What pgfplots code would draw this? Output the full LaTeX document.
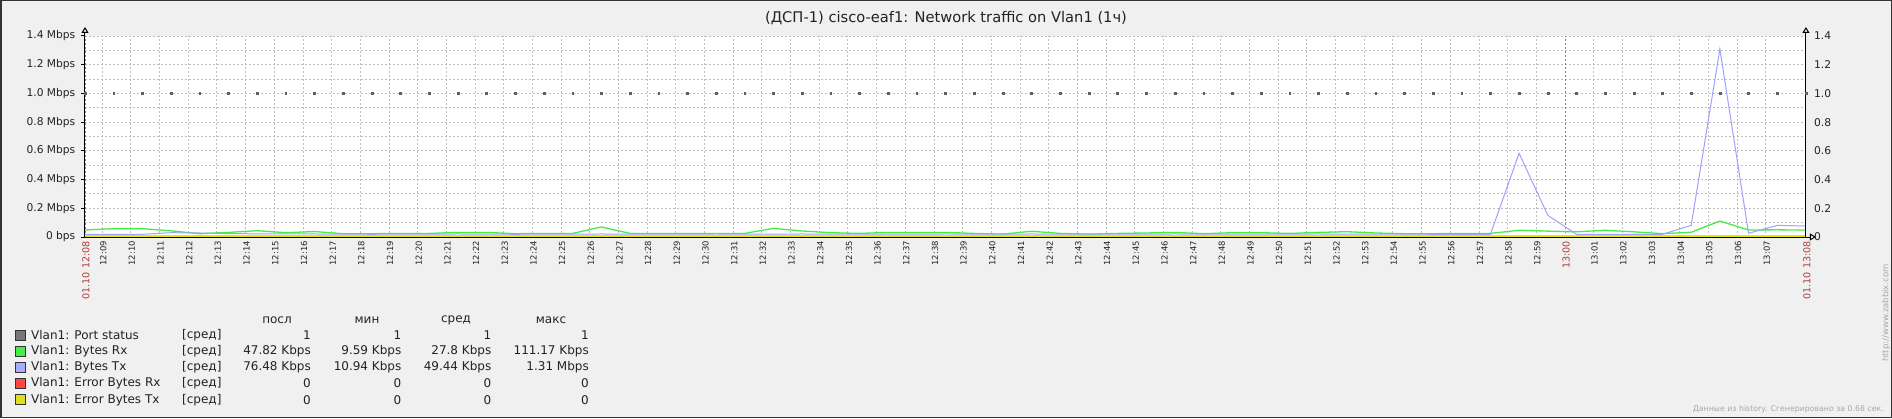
\documentclass[border=0pt]{standalone}
\usepackage{fontspec}
\setmainfont{DejaVu Sans}
\usepackage{pgfplots}
\pgfplotsset{compat=1.18}
\usetikzlibrary{arrows.meta}
\definecolor{bgc}{HTML}{F0F0F0}
\definecolor{brd}{HTML}{333333}
\definecolor{txt}{HTML}{222222}
\definecolor{redlab}{HTML}{B03A3A}
\definecolor{gridc}{HTML}{BDBDBD}
\definecolor{rxc}{HTML}{44EE44}
\definecolor{txc}{HTML}{A0A0FF}
\definecolor{psc}{HTML}{606060}
\definecolor{erxc}{HTML}{FF4444}
\definecolor{etxc}{HTML}{E6E600}
\definecolor{lg1}{HTML}{777777}
\definecolor{lg2}{HTML}{44EE44}
\definecolor{lg3}{HTML}{AAAAFF}
\definecolor{lg4}{HTML}{FF4444}
\definecolor{lg5}{HTML}{DDDD22}
\definecolor{faint}{HTML}{A8A8A8}

\pgfplotstableread{
x rx tx
8.4 0.049 0.019
9.4 0.058 0.019
10.4 0.058 0.019
11.4 0.043 0.030
12.4 0.023 0.028
13.4 0.032 0.024
14.4 0.044 0.022
15.4 0.030 0.021
16.4 0.038 0.021
17.4 0.023 0.020
18.4 0.023 0.019
19.4 0.025 0.020
20.4 0.025 0.020
21.4 0.032 0.021
22.4 0.032 0.020
23.4 0.023 0.019
24.4 0.025 0.020
25.4 0.025 0.020
26.4 0.070 0.021
27.4 0.025 0.020
28.4 0.025 0.020
29.4 0.025 0.020
30.4 0.025 0.021
31.4 0.025 0.020
32.4 0.060 0.020
33.4 0.042 0.021
34.4 0.030 0.020
35.4 0.025 0.020
36.4 0.032 0.020
37.4 0.032 0.020
38.4 0.032 0.021
39.4 0.025 0.020
40.4 0.020 0.020
41.4 0.040 0.021
42.4 0.025 0.020
43.4 0.020 0.020
44.4 0.025 0.020
45.4 0.028 0.020
46.4 0.032 0.021
47.4 0.023 0.020
48.4 0.030 0.020
49.4 0.030 0.020
50.4 0.025 0.020
51.4 0.032 0.021
52.4 0.037 0.020
53.4 0.028 0.020
54.4 0.023 0.020
55.4 0.023 0.019
56.4 0.025 0.019
57.4 0.025 0.019
58.4 0.047 0.583
59.4 0.041 0.151
60.4 0.036 0.019
61.4 0.047 0.019
62.4 0.036 0.019
63.4 0.023 0.019
64.4 0.033 0.081
65.4 0.111 1.309
66.4 0.049 0.026
67.4 0.050 0.081
68.4 0.048 0.0765
}\traffic

\pgfplotstableread{
x ps
8.4 1
9.4 1
10.4 1
11.4 1
12.4 1
13.4 1
14.4 1
15.4 1
16.4 1
17.4 1
18.4 1
19.4 1
20.4 1
21.4 1
22.4 1
23.4 1
24.4 1
25.4 1
26.4 1
27.4 1
28.4 1
29.4 1
30.4 1
31.4 1
32.4 1
33.4 1
34.4 1
35.4 1
36.4 1
37.4 1
38.4 1
39.4 1
40.4 1
41.4 1
42.4 1
43.4 1
44.4 1
45.4 1
46.4 1
47.4 1
48.4 1
49.4 1
50.4 1
51.4 1
52.4 1
53.4 1
54.4 1
55.4 1
56.4 1
57.4 1
58.4 1
59.4 1
60.4 1
61.4 1
62.4 1
63.4 1
64.4 1
65.4 1
66.4 1
67.4 1
68.4 1
}\portstatus

\pgfplotstableread{
x e
8.4 0
68.4 0
}\errors

\newcommand\fA{\fontsize{10.67}{12}\selectfont}
\newcommand\fL{\fontsize{12}{14}\selectfont}

\begin{document}
\begin{tikzpicture}
\useasboundingbox (0,0) rectangle (1892pt,418pt);
\fill[bgc] (0,0) rectangle (1892pt,418pt);
\draw[brd, line width=1.5pt] (0.75pt,0.75pt) rectangle (1891.25pt,417.25pt);

\begin{axis}[
  at={(85pt,181pt)}, anchor=south west,
  scale only axis, width=1721pt, height=201pt,
  xmin=8.4, xmax=68.4, ymin=0, ymax=1.4,
  axis x line*=bottom, axis y line*=left,
  axis line style={black, line width=1pt},
  axis background/.style={fill=white},
  xtick={9,10,11,12,13,14,15,16,17,18,19,20,21,22,23,24,25,26,27,28,29,30,31,32,33,34,35,36,37,38,39,40,41,42,43,44,45,46,47,48,49,50,51,52,53,54,55,56,57,58,59,61,62,63,64,65,66,67},
  xticklabel={\pgfmathtruncatemacro\mm{round(\tick)}\ifnum\mm<60 12:\ifnum\mm<10 0\fi\mm\else 13:0\the\numexpr\mm-60\relax\fi},
  xticklabel style={rotate=90, anchor=east, font=\fontsize{8.4}{9}\selectfont, text=txt, inner sep=0pt, yshift=-1pt},
  extra x ticks={8.4,60,68.4},
  extra x tick labels={01.10 12:08,13:00,01.10 13:08},
  extra x tick style={xticklabel style={text=redlab, font=\fontsize{9.6}{11}\selectfont}, major grid style={color=black!50, dash pattern=on 2pt off 2pt, line width=0.9pt}},
  xtick style={draw=none},
  ytick={0,0.2,0.4,0.6,0.8,1.0,1.2,1.4},
  yticklabels={0 bps,0.2 Mbps,0.4 Mbps,0.6 Mbps,0.8 Mbps,1.0 Mbps,1.2 Mbps,1.4 Mbps},
  yticklabel style={font=\fA, text=txt, inner sep=0pt, xshift=-5.5pt},
  minor y tick num=1,
  ytick style={black, line width=1pt},
  major tick length=4pt, minor tick length=0pt, tick align=outside,
  xmajorgrids, ymajorgrids, yminorgrids,
  major grid style={gridc, dash pattern=on 2pt off 2pt, line width=0.9pt},
  minor grid style={gridc, dash pattern=on 2pt off 2pt, line width=0.9pt},
  clip=false,
]
\addplot[rxc, line width=1.3pt] table[x=x, y=rx] {\traffic};
\addplot[txc, line width=1pt] table[x=x, y=tx] {\traffic};
\addplot[erxc, line width=1.5pt, yshift=1pt] table[x=x, y=e] {\errors};
\addplot[etxc, line width=1.5pt, yshift=1pt] table[x=x, y=e] {\errors};
\draw[black, line width=1pt, -{Triangle[open, length=6pt, width=7pt]}] (rel axis cs:0,1) -- ++(0pt,9pt);
\draw[black, line width=1pt, -{Triangle[open, length=6pt, width=7pt]}] (rel axis cs:1,0) -- ++(10pt,0pt);
\end{axis}

\begin{axis}[
  at={(85pt,181pt)}, anchor=south west,
  scale only axis, width=1721pt, height=201pt,
  xmin=8.4, xmax=68.4, ymin=0, ymax=1.4,
  axis x line=none, axis y line*=right,
  axis line style={black, line width=1pt},
  ytick={0,0.2,0.4,0.6,0.8,1.0,1.2,1.4},
  yticklabels={0,0.2,0.4,0.6,0.8,1.0,1.2,1.4},
  yticklabel style={font=\fA, text=txt, inner sep=0pt, xshift=8pt},
  ytick style={draw=none},
  clip=false,
]
\addplot[only marks, mark=square*, mark size=0.9pt, psc] table[x=x, y=ps] {\portstatus};
\draw[black, line width=1pt, -{Triangle[open, length=6pt, width=7pt]}] (rel axis cs:1,1) -- ++(0pt,9pt);
\end{axis}

% title
\node[font=\fontsize{14.67}{16}\selectfont, text=txt] at (946pt,400pt) {(ДСП-1) cisco-eaf1: Network traffic on Vlan1 (1ч)};

% legend
\begin{scope}[every node/.style={font=\fL, text=txt, inner sep=0pt}]
\node[anchor=center] at (277pt,97.5pt) {посл};
\node[anchor=center] at (367pt,97.5pt) {мин};
\node[anchor=center] at (456pt,97.5pt) {сред};
\node[anchor=center] at (551pt,97.5pt) {макс};
\foreach \yy/\cc/\nn/\va/\vb/\vc/\vd in {
  83/lg1/Port status/1/1/1/1,
  66.8/lg2/Bytes Rx/47.82 Kbps/9.59 Kbps/27.8 Kbps/111.17 Kbps,
  50.6/lg3/Bytes Tx/76.48 Kbps/10.94 Kbps/49.44 Kbps/1.31 Mbps,
  34.4/lg4/Error Bytes Rx/0/0/0/0,
  18.2/lg5/Error Bytes Tx/0/0/0/0}{
  \filldraw[fill=\cc, draw=brd, line width=0.8pt] (15.5pt,\yy pt-5pt) rectangle ++(10pt,10pt);
  \node[anchor=west] at (31pt,\yy pt) {Vlan1: \nn};
  \node[anchor=west] at (182pt,\yy pt) {[сред]};
  \node[anchor=east] at (311pt,\yy pt) {\va};
  \node[anchor=east] at (401.5pt,\yy pt) {\vb};
  \node[anchor=east] at (491.5pt,\yy pt) {\vc};
  \node[anchor=east] at (589pt,\yy pt) {\vd};
}
\end{scope}

\node[font=\fontsize{8.5}{10}\selectfont, text=faint, rotate=90, inner sep=0pt] at (1886pt,105pt) {http://www.zabbix.com};
\node[font=\fontsize{7.8}{9}\selectfont, text=faint, anchor=south east, inner sep=0pt] at (1884pt,5pt) {Данные из history. Сгенерировано за 0.68 сек.};
\end{tikzpicture}
\end{document}
